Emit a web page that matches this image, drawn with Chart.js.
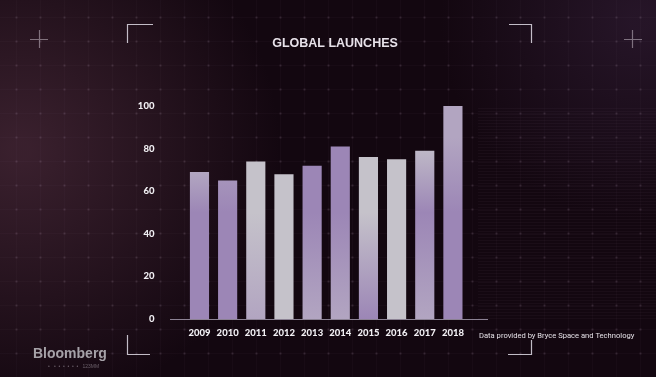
<!DOCTYPE html>
<html>
<head>
<meta charset="utf-8">
<script src="https://cdn.jsdelivr.net/npm/chart.js@4.4.1/dist/chart.umd.min.js"></script>
<style>
  html, body { margin: 0; padding: 0; background: #140811; }
  #wrap { width: 656px; height: 377px; position: relative; }
</style>
</head>
<body>
<div id="wrap"><canvas id="launchChart" width="656" height="377"></canvas></div>
<script>
// ---------------------------------------------------------------------------
// Data
// ---------------------------------------------------------------------------
const years = ["2009", "2010", "2011", "2012", "2013", "2014", "2015", "2016", "2017", "2018"];
const launches = [69, 65, 74, 68, 72, 81, 76, 75, 79, 100];
const yTicks = [0, 20, 40, 60, 80, 100];

const TITLE = "GLOBAL LAUNCHES";
const SOURCE = "Data provided by Bryce Space and Technology";

// bar tints (top, middle, bottom) - grey / lilac wash of the video texture
const GREY = "#c5c2ca";
const LILAC = "#9c86b6";
const MIX = "#b2a5c1";
const barTints = [
    [GREY, LILAC, LILAC],
    [MIX, LILAC, LILAC],
    [GREY, GREY, MIX],
    [GREY, GREY, GREY],
    [LILAC, LILAC, MIX],
    [LILAC, LILAC, MIX],
    [GREY, GREY, LILAC],
    [GREY, GREY, GREY],
    [GREY, LILAC, MIX],
    [MIX, LILAC, LILAC],
];

/**
 * Background, frame corners, title and footer texts
 */
const backdropPlugin = {
    id: "backdrop",
    beforeDraw(chart) {
        const { ctx, width, height } = chart;
        ctx.save();
        ctx.fillStyle = "#130710";
        ctx.fillRect(0, 0, width, height);

        // reddish haze on the left side
        const haze = ctx.createRadialGradient(20, 150, 10, 20, 150, 260);
        haze.addColorStop(0, "rgba(70,40,55,0.75)");
        haze.addColorStop(1, "rgba(70,40,55,0)");
        ctx.fillStyle = haze;
        ctx.fillRect(0, 0, width, height);

        const haze2 = ctx.createRadialGradient(640, 20, 10, 640, 20, 200);
        haze2.addColorStop(0, "rgba(50,30,55,0.6)");
        haze2.addColorStop(1, "rgba(50,30,55,0)");
        ctx.fillStyle = haze2;
        ctx.fillRect(0, 0, width, height);

        // faint grid of dots / lines
        ctx.strokeStyle = "rgba(150,120,150,0.045)";
        ctx.lineWidth = 1;
        for (let x = 16; x < width; x += 24) {
            ctx.beginPath();
            ctx.moveTo(x + 0.5, 0);
            ctx.lineTo(x + 0.5, height);
            ctx.stroke();
        }
        for (let y = 17; y < height; y += 24) {
            ctx.beginPath();
            ctx.moveTo(0, y + 0.5);
            ctx.lineTo(width, y + 0.5);
            ctx.stroke();
        }
        ctx.fillStyle = "rgba(190,170,190,0.16)";
        for (let x = 16; x < width; x += 24) {
            for (let y = 17; y < height; y += 24) {
                ctx.fillRect(x - 0.5, y - 0.5, 2, 2);
            }
        }

        // scanlines lower right
        ctx.fillStyle = "rgba(120,90,120,0.08)";
        for (let y = 108; y < 320; y += 3) {
            ctx.fillRect(478, y, 178, 1);
        }

        // corner brackets
        ctx.strokeStyle = "rgba(225,220,230,0.85)";
        ctx.lineWidth = 1.2;
        ctx.beginPath();
        ctx.moveTo(127.5, 43); ctx.lineTo(127.5, 24.5); ctx.lineTo(153, 24.5);
        ctx.moveTo(509, 24.5); ctx.lineTo(531.5, 24.5); ctx.lineTo(531.5, 43);
        ctx.moveTo(127.5, 335); ctx.lineTo(127.5, 354.5); ctx.lineTo(150, 354.5);
        ctx.moveTo(508, 354.5); ctx.lineTo(531.5, 354.5); ctx.lineTo(531.5, 340);
        ctx.stroke();

        // plus marks
        ctx.strokeStyle = "rgba(200,190,200,0.55)";
        ctx.beginPath();
        ctx.moveTo(30, 39.5); ctx.lineTo(48, 39.5);
        ctx.moveTo(39.5, 30); ctx.lineTo(39.5, 48);
        ctx.moveTo(624, 39.5); ctx.lineTo(642, 39.5);
        ctx.moveTo(632.5, 30); ctx.lineTo(632.5, 48);
        ctx.stroke();

        // title
        ctx.fillStyle = "#e8e2ea";
        ctx.font = "bold 12.5px 'Liberation Sans', Arial, sans-serif";
        ctx.textAlign = "center";
        ctx.textBaseline = "middle";
        ctx.fillText(TITLE, 335, 44);
        ctx.restore();
    },
    afterDraw(chart) {
        const { ctx } = chart;
        const yScale = chart.scales.y;
        const base = Math.round(yScale.getPixelForValue(0)) + 0.5;
        ctx.save();
        // extended baseline
        ctx.strokeStyle = "rgba(170,160,180,0.8)";
        ctx.lineWidth = 1;
        ctx.beginPath();
        ctx.moveTo(170, base);
        ctx.lineTo(488, base);
        ctx.stroke();

        // source note
        ctx.fillStyle = "#e4e0e6";
        ctx.font = "7.6px Roboto, 'Liberation Sans', sans-serif";
        ctx.textBaseline = "middle";
        ctx.textAlign = "left";
        ctx.fillText(SOURCE, 479, 336);

        // Bloomberg wordmark
        ctx.fillStyle = "#a6a2a8";
        ctx.font = "bold 14px 'Liberation Sans', Arial, sans-serif";
        ctx.fillText("Bloomberg", 33, 354);
        ctx.fillStyle = "rgba(160,150,160,0.6)";
        ctx.font = "5px 'Liberation Sans', sans-serif";
        ctx.fillText("•   •  •  •  •  •  •   123MM", 48, 367);
        ctx.restore();
    },
};

/**
 * Vertical grey/lilac wash for each bar
 */
function barFill(context) {
    const chart = context.chart;
    const area = chart.chartArea;
    if (!area) return LILAC;
    const tint = barTints[context.dataIndex] || [GREY, LILAC, LILAC];
    const meta = chart.getDatasetMeta(context.datasetIndex);
    const bar = meta.data[context.dataIndex];
    const top = bar && isFinite(bar.y) ? bar.y : area.top;
    const g = chart.ctx.createLinearGradient(0, top, 0, area.bottom);
    g.addColorStop(0, tint[0]);
    g.addColorStop(0.15, tint[0]);
    g.addColorStop(0.5, tint[1]);
    g.addColorStop(1, tint[2]);
    return g;
}

new Chart(document.getElementById("launchChart").getContext("2d"), {
    type: "bar",
    data: {
        labels: years,
        datasets: [{
            data: launches,
            backgroundColor: barFill,
            borderWidth: 0,
            barPercentage: 0.68,
            categoryPercentage: 1,
        }],
    },
    plugins: [backdropPlugin],
    options: {
        responsive: false,
        animation: false,
        devicePixelRatio: 1,
        layout: { padding: { left: 124, right: 189, top: 106, bottom: 33 } },
        plugins: {
            legend: { display: false },
            tooltip: { enabled: false },
            title: { display: false },
        },
        scales: {
            x: {
                grid: { display: false, drawTicks: false },
                border: { display: false },
                ticks: {
                    color: "#f2f0f4",
                    font: { family: "Lato, 'Open Sans', sans-serif", size: 9.5, weight: "900" },
                    padding: 8,
                    maxRotation: 0,
                    autoSkip: false,
                },
                afterFit(scale) { scale.height = 25; },
            },
            y: {
                min: 0,
                max: 100,
                grid: { display: false, drawTicks: false },
                border: { display: false },
                afterBuildTicks(scale) { scale.ticks = yTicks.map((v) => ({ value: v })); },
                ticks: {
                    color: "#f2f0f4",
                    font: { family: "Lato, 'Open Sans', sans-serif", size: 9.5, weight: "900" },
                    padding: 31,
                },
                afterFit(scale) { scale.width = 61.4; },
            },
        },
    },
});
</script>
</body>
</html>
